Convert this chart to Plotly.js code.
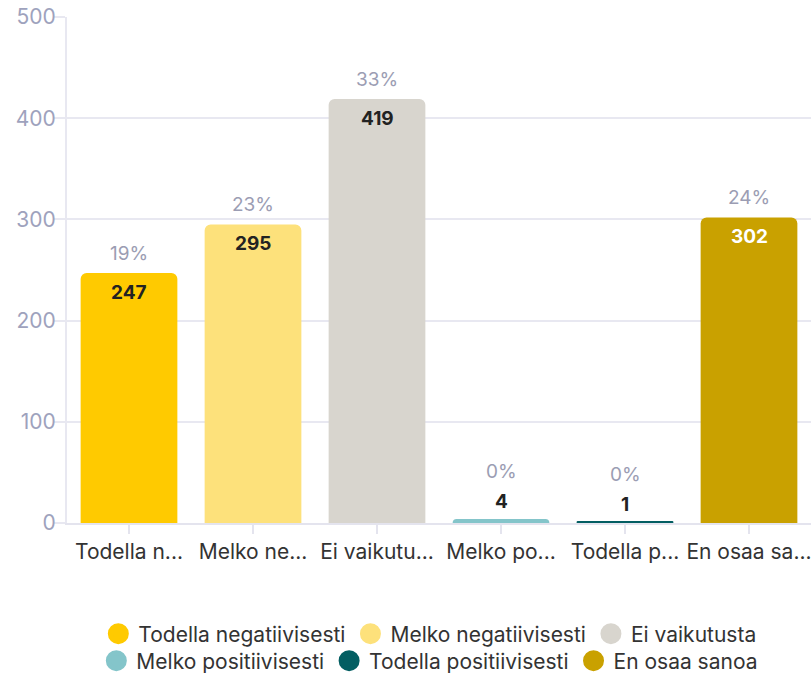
<!DOCTYPE html>
<html>
<head>
<meta charset="utf-8">
<script src="https://cdn.plot.ly/plotly-3.0.1.min.js"></script>
<style>html,body{margin:0;padding:0;background:#fff;}#chart{width:811px;height:673px;}</style>
</head>
<body>
<div id="chart"></div>
<script>
const categories = ["Todella negatiivisesti","Melko negatiivisesti","Ei vaikutusta","Melko positiivisesti","Todella positiivisesti","En osaa sanoa"];
const tickLabels = ["Todella n...","Melko ne...","Ei vaikutu...","Melko po...","Todella p...","En osaa sa..."];
const values = [247, 295, 419, 4, 1, 302];
const percents = ["19%","23%","33%","0%","0%","24%"];
const colors = ["#ffca00","#fde17b","#d8d5ce","#84c5ca","#035e62","#c9a100"];
const valueColors = ["#222222","#222222","#222222","#222222","#222222","#ffffff"];

const FONT = "Inter, 'Open Sans', sans-serif";
const traces = [];
categories.forEach((c, i) => {
  traces.push({
    type: "bar", x: [c], y: [values[i]], name: c,
    marker: {color: colors[i], cornerradius: 6},
    showlegend: false, hoverinfo: "skip"
  });
});
categories.forEach((c, i) => {
  traces.push({
    type: "scatter", mode: "markers", x: [null], y: [null], name: c,
    marker: {color: colors[i], size: 16, symbol: "circle", line: {color: colors[i], width: 5}},
    legend: i < 3 ? "legend" : "legend2", showlegend: true
  });
});

const annotations = [];
categories.forEach((c, i) => {
  const small = values[i] < 40;
  annotations.push({
    x: c, y: values[i], xref: "x", yref: "y", text: percents[i], showarrow: false,
    yanchor: "bottom", yshift: small ? 34 : 6,
    font: {family: FONT, size: 19, color: "#9b9db3"}
  });
  annotations.push({
    x: c, y: values[i], xref: "x", yref: "y", text: "<b>" + values[i] + "</b>", showarrow: false,
    yanchor: small ? "bottom" : "top", yshift: small ? 4 : -6,
    font: {family: FONT, size: 19, color: valueColors[i]}
  });
});

const legendBase = {
  orientation: "h", xanchor: "center", x: 0.53, yanchor: "middle", yref: "container", xref: "container",
  font: {family: FONT, size: 21, color: "#333"}, itemsizing: "trace", itemwidth: 30,
  bgcolor: "rgba(0,0,0,0)", tracegroupgap: 0
};

const layout = {
  width: 811, height: 673,
  margin: {l: 67, r: 0, t: 17, b: 150},
  paper_bgcolor: "#fff", plot_bgcolor: "#fff",
  barmode: "overlay", bargap: 0.22,
  showlegend: true,
  font: {family: FONT},
  xaxis: {
    type: "category", tickvals: categories, ticktext: tickLabels, automargin: false,
    ticks: "outside", ticklen: 9, tickcolor: "#e4e4ee", tickwidth: 2,
    showline: true, linecolor: "#e4e4ee", linewidth: 2,
    showgrid: false, zeroline: false,
    tickfont: {family: FONT, size: 21, color: "#333"}
  },
  yaxis: {
    range: [0, 500], dtick: 100, tick0: 0, automargin: false,
    showgrid: true, gridcolor: "#e8e8f1", gridwidth: 2,
    showline: true, linecolor: "#e8e8f1", linewidth: 2,
    ticks: "outside", ticklen: 11, tickcolor: "#e8e8f1", tickwidth: 2,
    ticklabelstandoff: -6,
    zeroline: false,
    tickfont: {family: FONT, size: 21, color: "#9ea2bd"}
  },
  legend: Object.assign({}, legendBase, {y: 1 - 634/673}),
  legend2: Object.assign({}, legendBase, {y: 1 - 661/673}),
  annotations: annotations
};

Plotly.newPlot("chart", traces, layout, {displayModeBar: false, responsive: false});
</script>
</body>
</html>
